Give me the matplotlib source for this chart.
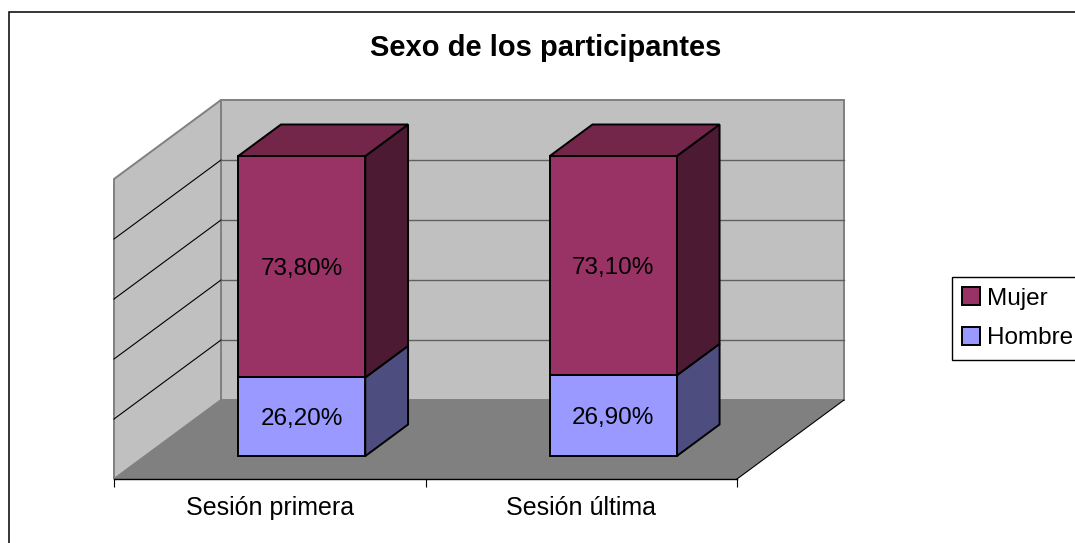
import matplotlib
matplotlib.use("Agg")
import matplotlib.pyplot as plt
from matplotlib.patches import Patch, Polygon, Rectangle

categories = ["Sesión primera", "Sesión última"]
hombre = [26.2, 26.9]
mujer = [73.8, 73.1]
series_names = ["Mujer", "Hombre"]
title = "Sexo de los participantes"

W, H = 1075, 543
DX = 107 / 311.5
DY = 79 / 300
D1, D2 = 0.29, 0.69
BAR_W = 0.408
BAR_C = 0.503
FS = 17.5

plt.rcParams["font.family"] = ["Liberation Sans", "DejaVu Sans"]

fig = plt.figure(figsize=(W / 100, H / 100), dpi=100, facecolor="white")
fig.add_artist(Rectangle((8.5 / W, -0.1), 1.2, 1 + 0.1 - 12.5 / H, transform=fig.transFigure,
                         fc="white", ec="black", lw=1.1, zorder=-1))

ax = fig.add_axes([114 / W, (H - 479) / H, 623 / W, 300 / H])
ax.set_xlim(0, 2)
ax.set_ylim(0, 100)
ax.patch.set_visible(False)
for s in ["top", "left", "right"]:
    ax.spines[s].set_visible(False)
ax.spines["bottom"].set_linewidth(1.0)
ax.spines["bottom"].set_zorder(6)


def pr(x, y, d):
    return (x + d * DX, y + d * DY * 100)


def poly(pts, **kw):
    ax.add_patch(Polygon(pts, closed=True, clip_on=False, **kw))


# walls and floor
poly([pr(0, 0, 1), pr(2, 0, 1), pr(2, 100, 1), pr(0, 100, 1)], fc="#C0C0C0", ec="#808080", lw=1.4, zorder=1)
poly([pr(0, 0, 0), pr(0, 0, 1), pr(0, 100, 1), pr(0, 100, 0)], fc="#C0C0C0", ec="#808080", lw=1.4, zorder=1)
poly([pr(0, 0, 0), pr(2, 0, 0), pr(2, 0, 1), pr(0, 0, 1)], fc="#808080", ec="none", zorder=2)
a, b = pr(2, 0, 0), pr(2, 0, 1)
ax.plot([a[0], b[0]], [a[1], b[1]], color="black", lw=0.8, clip_on=False, zorder=3)

# gridlines
for v in [20, 40, 60, 80]:
    a, b, c = pr(0, v, 0), pr(0, v, 1), pr(2, v, 1)
    ax.plot([a[0], b[0]], [a[1], b[1]], color="black", lw=0.8, clip_on=False, zorder=3)
    ax.plot([b[0], c[0]], [b[1], c[1]], color="#606060", lw=1.0, clip_on=False, zorder=3)

# bars
edge = dict(ec="black", lw=1.4, joinstyle="miter", zorder=4)
for i in range(len(categories)):
    x0 = i + BAR_C - BAR_W / 2
    x1 = i + BAR_C + BAR_W / 2
    h = hombre[i]
    t = hombre[i] + mujer[i]
    poly([pr(x1, 0, D1), pr(x1, 0, D2), pr(x1, h, D2), pr(x1, h, D1)], fc="#4D4D80", **edge)
    poly([pr(x1, h, D1), pr(x1, h, D2), pr(x1, t, D2), pr(x1, t, D1)], fc="#4C1A33", **edge)
    poly([pr(x0, t, D1), pr(x1, t, D1), pr(x1, t, D2), pr(x0, t, D2)], fc="#732649", **edge)
    poly([pr(x0, 0, D1), pr(x1, 0, D1), pr(x1, h, D1), pr(x0, h, D1)], fc="#9999FF", **edge)
    poly([pr(x0, h, D1), pr(x1, h, D1), pr(x1, t, D1), pr(x0, t, D1)], fc="#993366", **edge)
    cx, cy = pr(i + BAR_C, h / 2, D1)
    ax.text(cx, cy, f"{h:.2f}%".replace(".", ","), ha="center", va="center_baseline", fontsize=FS, zorder=5)
    cx, cy = pr(i + BAR_C, h + mujer[i] / 2, D1)
    ax.text(cx, cy, f"{mujer[i]:.2f}%".replace(".", ","), ha="center", va="center_baseline", fontsize=FS, zorder=5)

ax.set_yticks([])
ax.set_xticks([0, 1, 2], labels=[])
ax.set_xticks([0.5, 1.5], labels=categories, minor=True)
ax.tick_params(axis="x", which="major", length=6, width=0.8, color="black")
ax.tick_params(axis="x", which="minor", length=0, pad=12, labelsize=18)

fig.text(546 / W, 1 - 48 / H, title, ha="center", va="center", fontsize=21, fontweight="bold")

handles = [Patch(fc="#993366", ec="black", lw=1.4), Patch(fc="#9999FF", ec="black", lw=1.4)]
fig.legend(handles, series_names, loc="upper left", bbox_to_anchor=(952 / W, 1 - 277 / H),
           bbox_transform=fig.transFigure, fontsize=FS, frameon=True, fancybox=False,
           edgecolor="black", framealpha=1, borderaxespad=0, handlelength=0.75, handleheight=0.75,
           handletextpad=0.25, labelspacing=0.72, borderpad=0.42)

fig.savefig("out.png", dpi=100)
